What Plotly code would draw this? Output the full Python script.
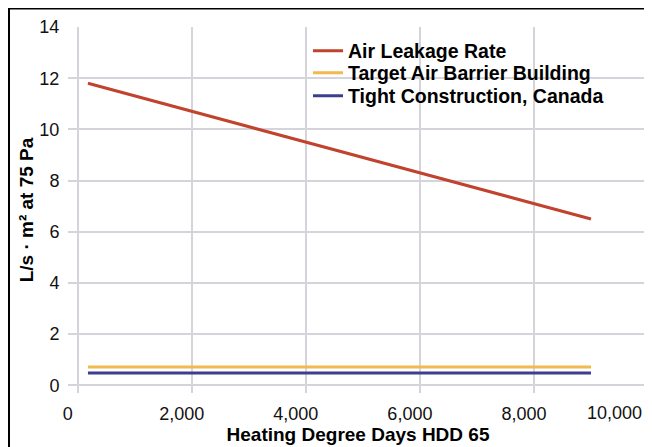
import plotly.graph_objects as go

# Data
hdd = [180, 9000]
air_leakage = [11.8, 6.5]
target_barrier = [0.72, 0.72]
tight_canada = [0.48, 0.48]

series_names = ["Air Leakage Rate", "Target Air Barrier Building", "Tight Construction, Canada"]
series_colors = ["#c0432e", "#f1b94e", "#3c3f8e"]

x_tickvals = [0, 2000, 4000, 6000, 8000, 10000]
x_ticktext = ["0", "2,000", "4,000", "6,000", "8,000", "10,000"]
y_tickvals = [0, 2, 4, 6, 8, 10, 12, 14]

# page body has an 8px margin; figure sized to fit the window
W, H = 644, 439
ml, mr, mt, mb = 60, 4, 19, 54
pw = W - ml - mr
ph = H - mt - mb

def px_x(p):
    return (p - ml) / pw

def px_y(p):
    return (H - mb - p) / ph

legend_ids = ["legend", "legend2", "legend3"]
legend_rows = [43, 65, 88]

fig = go.Figure()
for name, ys, col, lid in zip(series_names, [air_leakage, target_barrier, tight_canada],
                              series_colors, legend_ids):
    fig.add_trace(go.Scatter(x=hdd, y=ys, mode="lines", name=name, legend=lid,
                             line=dict(color=col, width=3)))

legend_font = dict(size=19.5, family="Liberation Sans, Arial, sans-serif", color="black", weight="bold")
legend_layout = {}
for lid, row in zip(legend_ids, legend_rows):
    legend_layout[lid] = dict(x=px_x(300), y=px_y(row), xanchor="left", yanchor="middle",
                              bgcolor="rgba(0,0,0,0)", itemwidth=30, font=legend_font)

tick_font = dict(size=18, color="#111111", family="Liberation Sans, Arial, sans-serif")

# last x tick label sits inside the right edge (as in the original), so it is
# placed as an annotation at its tick value, right-aligned
shown_ticktext = x_ticktext[:-1] + [""]
last_label = dict(x=x_tickvals[-1], xref="x", y=px_y(405), yref="paper",
                  text=x_ticktext[-1], showarrow=False, xanchor="right", yanchor="middle",
                  xshift=-4, font=tick_font)

fig.update_layout(
    width=W, height=H,
    margin=dict(l=ml, r=mr, t=mt, b=mb, autoexpand=False),
    paper_bgcolor="white", plot_bgcolor="white",
    font=dict(family="Liberation Sans, Arial, Helvetica, sans-serif", color="#111111"),
    showlegend=True,
    xaxis=dict(range=[-170, 10000], tickvals=x_tickvals, ticktext=shown_ticktext,
               showgrid=True, gridcolor="#d4d4da", gridwidth=2, zeroline=False,
               showline=False, ticks="outside", tickcolor="rgba(0,0,0,0)", ticklen=4,
               ticklabelshift=-10,
               tickfont=tick_font,
               title=dict(text="Heating Degree Days HDD 65", standoff=2,
                          font=dict(size=19, color="black", weight="bold"))),
    yaxis=dict(range=[-0.3, 14], tickvals=y_tickvals,
               showgrid=True, gridcolor="#d4d4da", gridwidth=2, zeroline=False,
               showline=False, ticks="outside", tickcolor="rgba(0,0,0,0)", ticklen=4,
               tickfont=tick_font,
               title=dict(text="L/s · m² at 75 Pa", standoff=0,
                          font=dict(size=19, color="black", weight="bold"))),
    annotations=[last_label],
    shapes=[
        dict(type="rect", xref="paper", yref="paper", layer="between",
             x0=px_x(295), x1=px_x(602), y0=px_y(30), y1=px_y(106),
             fillcolor="white", line=dict(width=0)),
        dict(type="line", xref="paper", yref="paper", x0=px_x(0), x1=px_x(W),
             y0=px_y(0.5), y1=px_y(0.5), line=dict(color="black", width=2)),
        dict(type="line", xref="paper", yref="paper", x0=px_x(1), x1=px_x(1),
             y0=px_y(0), y1=px_y(H), line=dict(color="black", width=2)),
    ],
    **legend_layout,
)

fig.write_html("out.html")
